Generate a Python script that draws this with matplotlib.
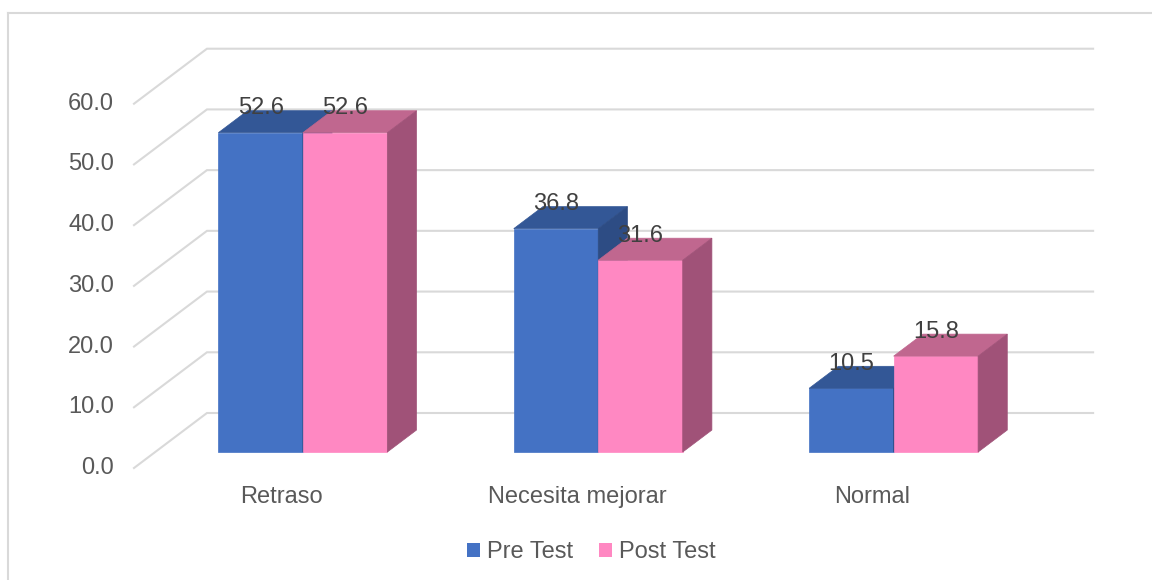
import matplotlib
matplotlib.use("Agg")
import matplotlib.pyplot as plt
from matplotlib.patches import Polygon, Rectangle
from matplotlib.lines import Line2D

categories = ["Retraso", "Necesita mejorar", "Normal"]
series_names = ["Pre Test", "Post Test"]
pre_test = [52.6, 36.8, 10.5]
post_test = [52.6, 31.6, 15.8]
y_ticks = [0, 10, 20, 30, 40, 50, 60]

# colours: front, top, side
colors = {
    "Pre Test": ("#4472C4", "#335796", "#2D4C84"),
    "Post Test": ("#FF88C2", "#C0678F", "#A05278"),
}

# oblique projection (category units, value units)
WALL_DX, WALL_DY = 0.247, 9.06      # full floor depth
BAR_F0, BAR_F1 = 0.29, 0.69         # bar depth fractions
BAR_W = 0.286
FS = 17

grid_c = "#D9D9D9"
text_c = "#595959"
label_c = "#404040"
plt.rcParams["font.family"] = ["Liberation Sans", "DejaVu Sans"]

fig = plt.figure(figsize=(11.52, 5.8), dpi=100)
ax = fig.add_axes([134 / 1152, (580 - 468) / 580, 960 / 1152, 425 / 580])
ax.set_xlim(-0.5, 2.75)
ax.set_ylim(0, 70)
ax.axis("off")

# outer chart border (left and top only visible)
fig.add_artist(Line2D([7.5 / 1152, 7.5 / 1152], [0, 1 - 13 / 580],
                      color=grid_c, lw=1.5, transform=fig.transFigure))
fig.add_artist(Line2D([7.5 / 1152, 1], [1 - 13 / 580, 1 - 13 / 580],
                      color=grid_c, lw=1.5, transform=fig.transFigure))

# walls: side diagonals + back gridlines
x_left, x_right = -0.5, 2.5
for v in y_ticks:
    ax.plot([x_left, x_left + WALL_DX, x_right + WALL_DX],
            [v, v + WALL_DY, v + WALL_DY],
            color=grid_c, lw=1.5, clip_on=False, zorder=1,
            solid_joinstyle="miter")
    ax.text(x_left - 0.068, v, f"{v:.1f}", ha="right", va="center",
            fontsize=FS, color=text_c)

fx0, fy0 = WALL_DX * BAR_F0, WALL_DY * BAR_F0
dx, dy = WALL_DX * (BAR_F1 - BAR_F0), WALL_DY * (BAR_F1 - BAR_F0)

z = 2
for i, cat in enumerate(categories):
    for j, (name, vals) in enumerate(zip(series_names, [pre_test, post_test])):
        v = vals[i]
        front, top, side = colors[name]
        x0 = i + fx0 + (j - 1) * BAR_W
        x1 = x0 + BAR_W
        y0 = fy0
        y1 = fy0 + v
        ax.add_patch(Rectangle((x0, y0), BAR_W, v, facecolor=front,
                               edgecolor=front, lw=0.5, zorder=z))
        ax.add_patch(Polygon([(x0, y1), (x1, y1), (x1 + dx, y1 + dy),
                              (x0 + dx, y1 + dy)], closed=True,
                             facecolor=top, edgecolor=top, lw=0.5, zorder=z))
        ax.add_patch(Polygon([(x1, y0), (x1 + dx, y0 + dy), (x1 + dx, y1 + dy),
                              (x1, y1)], closed=True,
                             facecolor=side, edgecolor=side, lw=0.5, zorder=z))
        z += 1
        ax.text((x0 + x1) / 2, y1 + 4.0, f"{v:.1f}", ha="center", va="center",
                fontsize=FS, color=label_c, zorder=20)
    ax.text(i, -4.8, cat, ha="center", va="center", fontsize=FS,
            color=text_c)

# legend
handles = [Rectangle((0, 0), 1, 1, facecolor=colors[n][0], edgecolor="none")
           for n in series_names]
fig.legend(handles, series_names, loc="center", bbox_to_anchor=(591 / 1152, 1 - 552 / 580),
           ncol=2, frameon=False, fontsize=FS, labelcolor=text_c,
           handlelength=0.55, handleheight=0.55, handletextpad=0.3,
           columnspacing=1.1)

fig.savefig("out.png", dpi=100)
